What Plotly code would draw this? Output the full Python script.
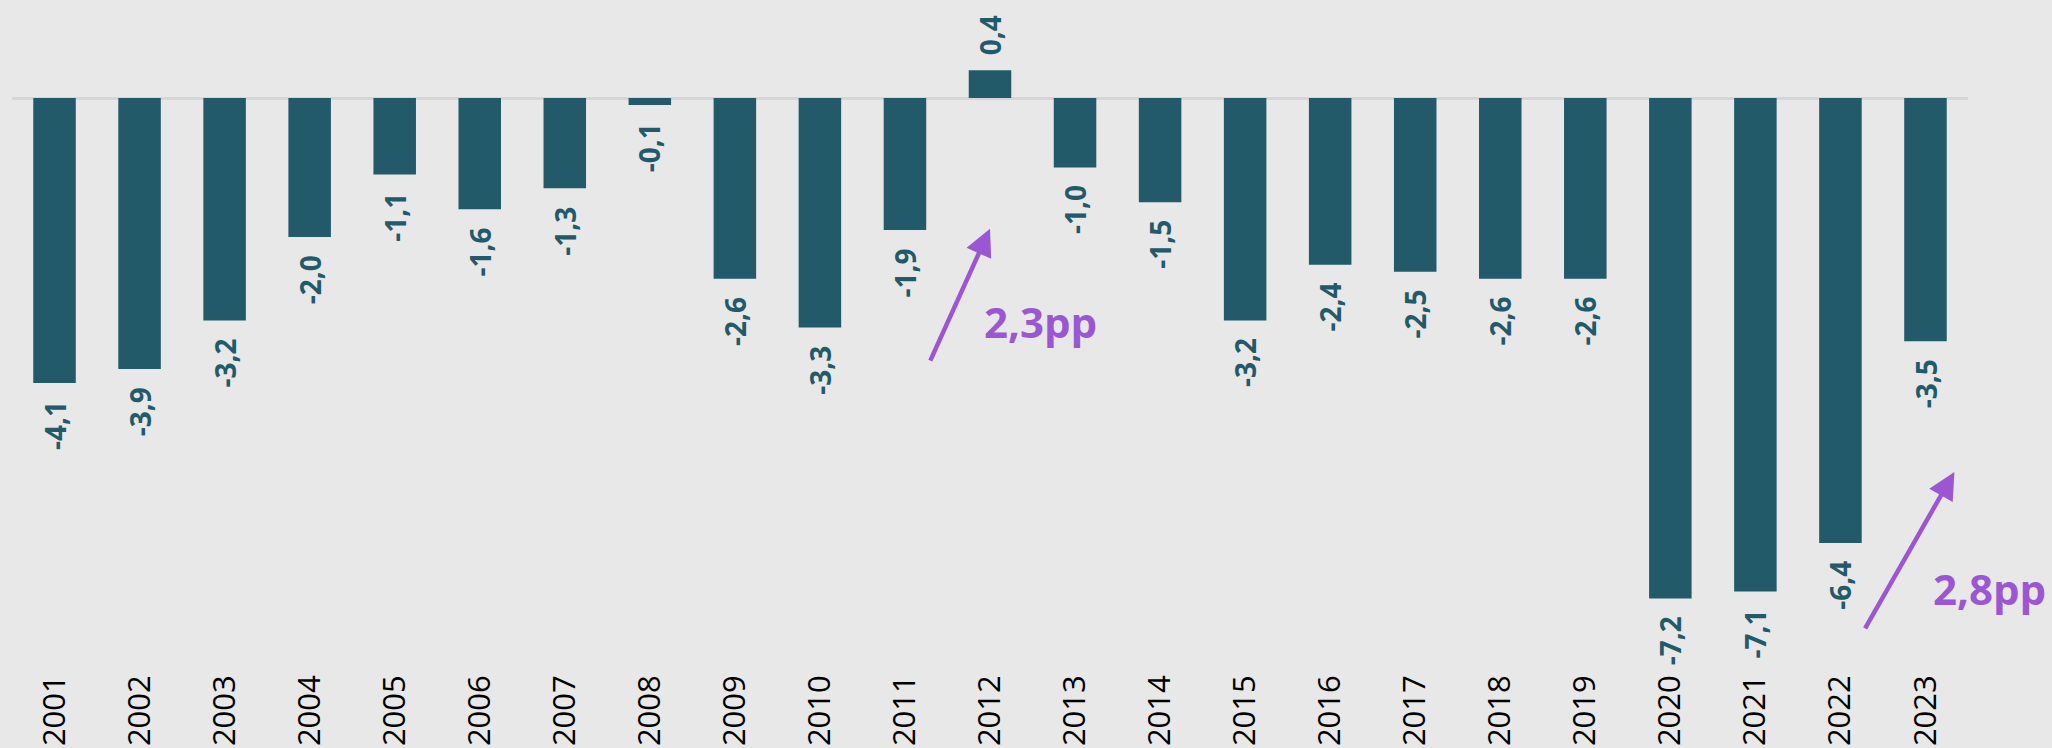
import plotly.graph_objects as go

years = [str(y) for y in range(2001, 2024)]
values = [-4.1, -3.9, -3.2, -2.0, -1.1, -1.6, -1.3, -0.1, -2.6, -3.3, -1.9, 0.4,
          -1.0, -1.5, -3.2, -2.4, -2.5, -2.6, -2.6, -7.2, -7.1, -6.4, -3.5]

# change annotations: arrow tail/head in (bar index, value) units, label anchor
changes = [
    {"label": "2,3pp", "tail": (10.29, -3.8), "head": (11.0, -1.88), "pos": (11.59, -3.22), "xshift": 0},
    {"label": "2,8pp", "tail": (21.28, -7.65), "head": (22.34, -5.38), "pos": (22.4, -7.06), "xshift": 30},
]

TEAL = "#225a69"
PURPLE = "#9b57d3"
BG = "#e8e8e8"
FONT = "Open Sans"

idx = list(range(len(years)))

fig = go.Figure()
fig.add_trace(go.Bar(
    x=idx, y=values,
    marker=dict(color=TEAL, line=dict(width=0)),
    hoverinfo="skip",
))

annotations = []
for i, v in zip(idx, values):
    txt = f"{v:.1f}".replace(".", ",")
    annotations.append(dict(
        x=i, y=v, xref="x", yref="y", text=txt, showarrow=False,
        textangle=-90,
        yanchor="top" if v < 0 else "bottom",
        yshift=-16 if v < 0 else 13,
        font=dict(family=FONT, size=28, color=TEAL, weight="bold"),
    ))

for c in changes:
    annotations.append(dict(
        x=c["head"][0], y=c["head"][1], ax=c["tail"][0], ay=c["tail"][1],
        xref="x", yref="y", axref="x", ayref="y",
        text="", showarrow=True, arrowhead=2, arrowsize=1.2,
        arrowwidth=4.5, arrowcolor=PURPLE,
    ))
    annotations.append(dict(
        x=c["pos"][0], y=c["pos"][1], xref="x", yref="y",
        text=c["label"], showarrow=False, xshift=c["xshift"],
        font=dict(family=FONT, size=42, color=PURPLE, weight="bold"),
    ))

fig.update_layout(
    width=2052, height=748,
    margin=dict(l=12, r=84, t=0, b=80),
    paper_bgcolor=BG, plot_bgcolor=BG,
    bargap=0.5,
    showlegend=False,
    annotations=annotations,
    xaxis=dict(
        range=[-0.5, len(years) - 0.5],
        tickmode="array", tickvals=idx, ticktext=years,
        tickangle=-90, showgrid=False, zeroline=False, showline=False,
        ticks="", tickfont=dict(family=FONT, size=31, color="#000000"),
    ),
    yaxis=dict(
        range=[-8.2, 1.41], showgrid=False, showticklabels=False, ticks="",
        zeroline=True, zerolinecolor="#d6d6d6", zerolinewidth=3, showline=False,
    ),
)

fig.write_html(
    "out.html",
    config={"displayModeBar": False},
    post_script="document.body.style.margin='0';document.body.style.overflow='hidden';",
)
